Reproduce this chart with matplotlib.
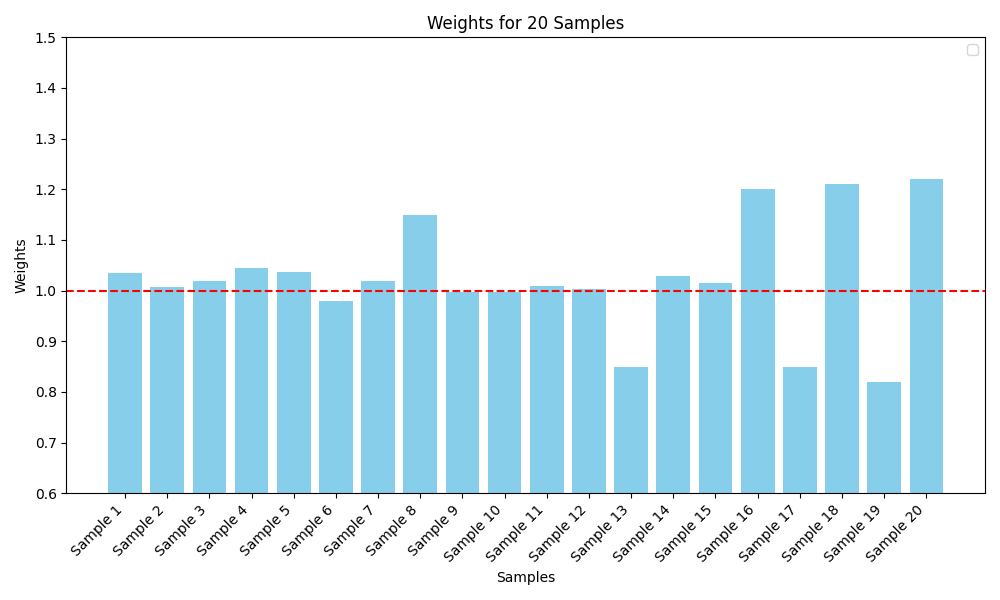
import matplotlib
matplotlib.use('Agg')
import matplotlib.pyplot as plt

samples = [f"Sample {i}" for i in range(1, 21)]
weights = [1.035, 1.007, 1.019, 1.045, 1.037, 0.98, 1.019, 1.15, 0.997, 0.997,
           1.009, 1.003, 0.85, 1.028, 1.015, 1.20, 0.85, 1.21, 0.82, 1.22]
reference = 1.0

fig, ax = plt.subplots(figsize=(10, 6))
ax.bar(samples, weights, color='skyblue')
ax.axhline(reference, color='red', linestyle='--')
ax.set_ylim(0.6, 1.5)
ax.set_xlabel('Samples')
ax.set_ylabel('Weights')
ax.set_title('Weights for 20 Samples')
ax.set_xticks(range(len(samples)))
ax.set_xticklabels(samples, rotation=45, ha='right')
ax.legend()
plt.tight_layout()
plt.savefig('out.png', dpi=100)
